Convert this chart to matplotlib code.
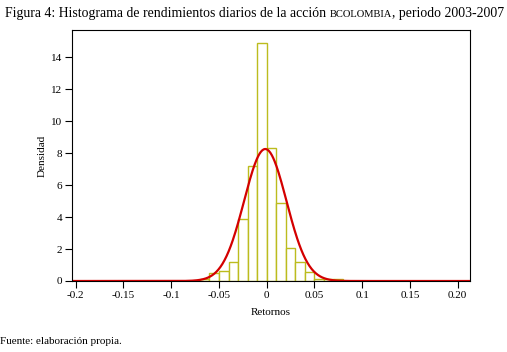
import numpy as np
import matplotlib
matplotlib.use("Agg")
import matplotlib.pyplot as plt

# bin edges and density heights
bin_edges = [-0.07, -0.06, -0.05, -0.04, -0.03, -0.02, -0.01, 0.0,
             0.01, 0.02, 0.03, 0.04, 0.05, 0.06, 0.07, 0.08]
densidad = [0.10, 0.52, 0.65, 1.17, 3.85, 7.17, 14.9, 8.33,
            4.90, 2.04, 1.17, 0.54, 0.12, 0.15, 0.15]

# fitted normal curve (peak height, mean, sd as drawn)
pico = 8.25
media = -0.0015
desv = 0.0222

xticks = [-0.2, -0.15, -0.1, -0.05, 0, 0.05, 0.1, 0.15, 0.2]
xticklabels = ["-0.2", "-0.15", "-0.1", "-0.05", "0", "0.05", "0.1", "0.15", "0.20"]
yticks = [0, 2, 4, 6, 8, 10, 12, 14]

plt.rcParams['font.family'] = ['Liberation Serif', 'DejaVu Serif']

fig = plt.figure(figsize=(5.07, 3.52), dpi=100)
ax = fig.add_axes([72/507, 1 - 281/352, (470 - 72)/507, (281 - 30)/352])

lefts = np.array(bin_edges[:-1])
widths = np.diff(bin_edges)
ax.bar(lefts, densidad, width=widths, align='edge', facecolor='white',
       edgecolor='#bcbc1e', linewidth=1.0)

xs = np.linspace(-0.21, 0.22, 600)
ax.plot(xs, pico * np.exp(-0.5 * ((xs - media) / desv) ** 2), color='#d40000', linewidth=1.6)

ax.set_xlim(-0.2039, 0.2129)
ax.set_ylim(0, 15.69)
ax.set_xticks(xticks)
ax.set_xticklabels(xticklabels)
ax.set_yticks(yticks)
ax.tick_params(direction='out', length=5, width=0.8, labelsize=8, pad=2)
for s in ax.spines.values():
    s.set_linewidth(0.8)

ax.set_xlabel("Retornos", fontsize=8, labelpad=6)
ax.set_ylabel("Densidad", fontsize=8, labelpad=3)

# title with BCOLOMBIA in small caps style
y_tit = 1 - 17/352
t1 = fig.text(5/507, y_tit, "Figura 4: Histograma de rendimientos diarios de la acción ",
              fontsize=9.9, va='baseline', ha='left')
t2 = fig.text(0, 0, "BCOLOMBIA", fontsize=7.6, va='baseline', ha='left')
t3 = fig.text(0, 0, ", periodo 2003-2007", fontsize=9.9, va='baseline', ha='left')
fig.canvas.draw()
r = fig.canvas.get_renderer()
bb1 = t1.get_window_extent(r)
t2.set_position((bb1.x1 / fig.bbox.width, y_tit))
bb2 = t2.get_window_extent(r)
t3.set_position((bb2.x1 / fig.bbox.width, y_tit))

fig.text(0, 1 - 344/352, "Fuente: elaboración propia.", fontsize=8, ha='left', va='baseline')

fig.savefig("out.png", dpi=100)
